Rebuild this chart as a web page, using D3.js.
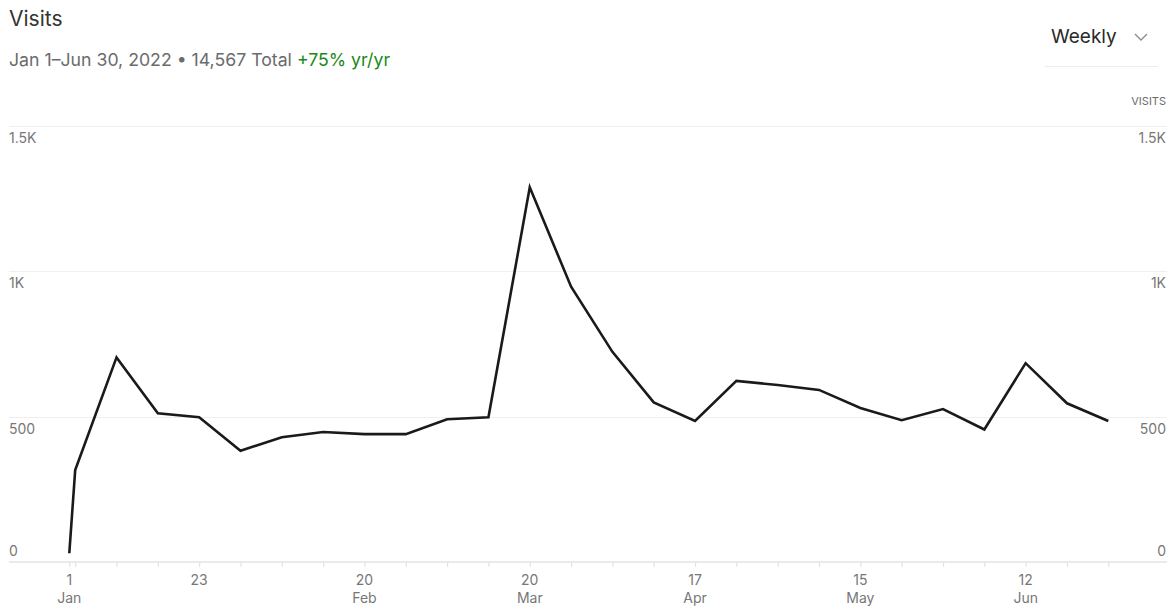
<!DOCTYPE html>
<html>
<head>
<meta charset="utf-8">
<script src="https://cdn.jsdelivr.net/npm/d3@7"></script>
<style>
  body { margin: 0; background: #fff; }
  svg { display: block; font-family: Inter, "Liberation Sans", Arial, sans-serif; }
</style>
</head>
<body>
<svg id="visitsChart" width="1175" height="608"></svg>
<script>
// weekly visits, Jan 1 - Jun 30 2022 (first point is the partial day Jan 1)
var weekDates = [
  "2022-01-01", "2022-01-02", "2022-01-09", "2022-01-16", "2022-01-23", "2022-01-30",
  "2022-02-06", "2022-02-13", "2022-02-20", "2022-02-27", "2022-03-06", "2022-03-13",
  "2022-03-20", "2022-03-27", "2022-04-03", "2022-04-10", "2022-04-17", "2022-04-24",
  "2022-05-01", "2022-05-08", "2022-05-15", "2022-05-22", "2022-05-29", "2022-06-05",
  "2022-06-12", "2022-06-19", "2022-06-26"
];
var visits = [
  30, 316, 704, 512, 498, 383,
  429, 447, 440, 440, 491, 498,
  1289, 947, 723, 549, 485, 623,
  609, 592, 530, 488, 526, 456,
  684, 546, 485
];
var yTicks = [0, 500, 1000, 1500];
var yTickLabels = ["0", "500", "1K", "1.5K"];
var labelledDates = ["2022-01-01", "2022-01-23", "2022-02-20", "2022-03-20", "2022-04-17", "2022-05-15", "2022-06-12"];
var dayLabels = ["1", "23", "20", "20", "17", "15", "12"];
var monthLabels = ["Jan", "Jan", "Feb", "Mar", "Apr", "May", "Jun"];
// show month under day label except the 23 Jan one
var showMonth = [true, false, true, true, true, true, true];

var parse = d3.utcParse("%Y-%m-%d");
var data = weekDates.map(function (d, i) { return { date: parse(d), value: visits[i] }; });

var svg = d3.select("#visitsChart");
var left = 9, right = 1167;

// header
svg.append("text").attr("x", 9).attr("y", 26).attr("font-size", "21px").attr("fill", "#333").text("Visits");
var sub = svg.append("text").attr("x", 9).attr("y", 66).attr("font-size", "17.7px").attr("fill", "#6b6b6b");
sub.append("tspan").text("Jan 1\u2013Jun 30, 2022 \u2022 14,567 Total ");
sub.append("tspan").attr("fill", "#1a8917").text("+75% yr/yr");

svg.append("text").attr("x", 1051).attr("y", 43).attr("font-size", "19px").attr("fill", "#292929").text("Weekly");
svg.append("path").attr("d", "M1135,34 L1141,40 L1147,34").attr("fill", "none")
  .attr("stroke", "#8a8a8a").attr("stroke-width", 1.3);
svg.append("line").attr("x1", 1045).attr("x2", 1158).attr("y1", 66.5).attr("y2", 66.5)
  .attr("stroke", "#ececec").attr("stroke-width", 1);

svg.append("text").attr("x", right - 1).attr("y", 105).attr("text-anchor", "end")
  .attr("font-size", "11px").attr("fill", "#6b6b6b").text("VISITS");

var x = d3.scaleUtc()
  .domain([parse(weekDates[0]), parse(weekDates[weekDates.length - 1])])
  .range([69.3, 1108.3]);
var y = d3.scaleLinear().domain([0, 1500]).range([562, 126]);

// gridlines
svg.append("g").selectAll("line").data(yTicks.slice(1)).enter().append("line")
  .attr("x1", left).attr("x2", right)
  .attr("y1", function (d) { return Math.round(y(d)) + 0.5; })
  .attr("y2", function (d) { return Math.round(y(d)) + 0.5; })
  .attr("stroke", "#efefef").attr("stroke-width", 1.2);

// y labels, left and right
[["start", left], ["end", right - 1]].forEach(function (side) {
  svg.append("g").selectAll("text").data(yTicks).enter().append("text")
    .attr("x", side[1])
    .attr("y", function (d) { return d === 0 ? y(d) - 6 : y(d) + 17; })
    .attr("text-anchor", side[0])
    .attr("font-size", "14px").attr("fill", "#777")
    .text(function (d, i) { return yTickLabels[i]; });
});

// x axis
var tickDates = [parse(weekDates[0])].concat(d3.utcSunday.range(parse("2022-01-02"), d3.utcDay.offset(parse("2022-06-26"), 1)));
var xAxis = d3.axisBottom(x).tickValues(tickDates).tickSize(5).tickFormat("");
var ax = svg.append("g").attr("transform", "translate(0," + 562 + ")").call(xAxis);
ax.select(".domain").remove();
ax.selectAll(".tick line").attr("stroke", "#e3e3e3").attr("stroke-width", 1.2);
ax.append("line").attr("x1", left).attr("x2", right).attr("y1", 0).attr("y2", 0)
  .attr("stroke", "#e3e3e3").attr("stroke-width", 1.5);

var lab = svg.append("g").selectAll("g").data(labelledDates).enter().append("g")
  .attr("transform", function (d) { return "translate(" + x(parse(d)) + ",0)"; });
lab.append("text").attr("y", 585).attr("text-anchor", "middle")
  .attr("font-size", "14px").attr("fill", "#777")
  .text(function (d, i) { return dayLabels[i]; });
lab.append("text").attr("y", 603).attr("text-anchor", "middle")
  .attr("font-size", "14px").attr("fill", "#777")
  .text(function (d, i) { return showMonth[i] ? monthLabels[i] : ""; });

// the line
var line = d3.line()
  .x(function (d) { return x(d.date); })
  .y(function (d) { return y(d.value); });
svg.append("path").datum(data)
  .attr("d", line)
  .attr("fill", "none")
  .attr("stroke", "#1a1a1a")
  .attr("stroke-width", 2.6)
  .attr("stroke-linejoin", "miter");
</script>
</body>
</html>
